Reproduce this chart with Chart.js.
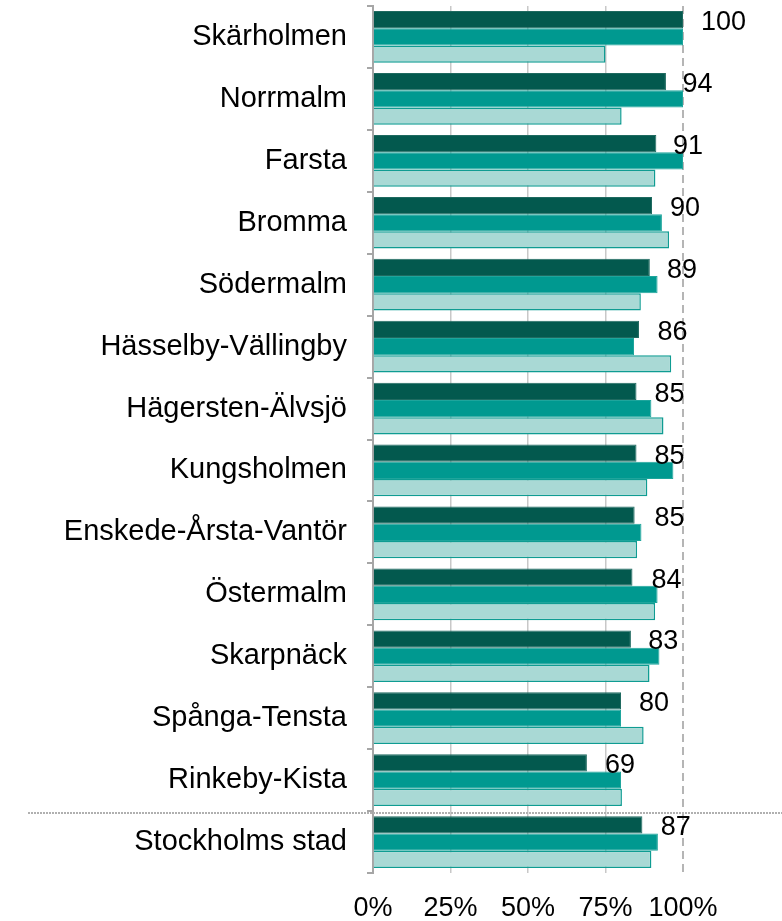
<!DOCTYPE html>
<html>
<head>
<meta charset="utf-8">
<script src="https://cdn.jsdelivr.net/npm/chart.js@4/dist/chart.umd.min.js"></script>
<style>
  html, body { margin: 0; padding: 0; background: #fff; }
  #wrap { width: 782px; height: 921px; position: relative; }
</style>
</head>
<body>
<div id="wrap"><canvas id="chart"></canvas></div>
<script>
// Stadsdelar (uppifrån och ned)
const omraden = [
    'Skärholmen', 'Norrmalm', 'Farsta', 'Bromma', 'Södermalm',
    'Hässelby-Vällingby', 'Hägersten-Älvsjö', 'Kungsholmen',
    'Enskede-Årsta-Vantör', 'Östermalm', 'Skarpnäck', 'Spånga-Tensta',
    'Rinkeby-Kista', 'Stockholms stad'
];

// Serievärden i procent
const serieMork = [100, 94.5, 91.4, 90, 89.3, 85.8, 85, 85, 84.4, 83.7, 83.2, 80, 69, 86.9];
const serieMellan = [100, 100, 100, 93.2, 91.8, 84.2, 89.8, 96.9, 86.6, 91.8, 92.4, 80, 80, 91.9];
const serieLjus = [75, 80.2, 91.1, 95.5, 86.4, 96.2, 93.7, 88.5, 85.2, 91, 89.2, 87.3, 80.3, 89.8];

// Etiketter till höger om den mörka stapeln
const indexEtiketter = [100, 94, 91, 90, 89, 86, 85, 85, 85, 84, 83, 80, 69, 87];

const xTicks = [0, 25, 50, 75, 100];

const FONT = '"Liberation Sans", Arial, sans-serif';

// Ritar siffrorna efter den mörka stapeln
const etikettPlugin = {
    id: 'etiketter',
    afterDatasetsDraw(chart) {
        const ctx = chart.ctx;
        const meta = chart.getDatasetMeta(0);
        const x = chart.scales.x;
        ctx.save();
        ctx.font = '27px ' + FONT;
        ctx.fillStyle = '#000';
        ctx.textAlign = 'left';
        ctx.textBaseline = 'middle';
        meta.data.forEach((bar, i) => {
            const px = x.getPixelForValue(indexEtiketter[i]) + 18;
            ctx.fillText(String(indexEtiketter[i]), px, bar.y + 3);
        });
        ctx.restore();
    }
};

// Prickad linje som skiljer Stockholms stad från stadsdelarna
const avskiljarePlugin = {
    id: 'avskiljare',
    afterDraw(chart) {
        const y = chart.scales.y;
        const n = omraden.length;
        const py = (y.getPixelForValue(n - 2) + y.getPixelForValue(n - 1)) / 2 + 2;
        const ctx = chart.ctx;
        ctx.save();
        ctx.strokeStyle = '#b0b0b0';
        ctx.lineWidth = 2;
        ctx.setLineDash([2, 1]);
        ctx.beginPath();
        ctx.moveTo(28, py);
        ctx.lineTo(chart.width, py);
        ctx.stroke();
        ctx.restore();
    }
};

new Chart(document.getElementById('chart'), {
    type: 'bar',
    data: {
        labels: omraden,
        datasets: [
            {
                data: serieMork,
                backgroundColor: '#03594e',
                borderColor: '#1f6a60',
                borderWidth: 1
            },
            {
                data: serieMellan,
                backgroundColor: '#009990',
                borderColor: '#1ea59c',
                borderWidth: 1
            },
            {
                data: serieLjus,
                backgroundColor: '#a9d9d5',
                borderColor: '#0f9c92',
                borderWidth: 1.5
            }
        ]
    },
    options: {
        indexAxis: 'y',
        responsive: true,
        maintainAspectRatio: false,
        animation: false,
        layout: { padding: { top: 6, right: 99, left: 0, bottom: 0 } },
        datasets: {
            bar: { categoryPercentage: 0.835, barPercentage: 1 }
        },
        plugins: {
            legend: { display: false },
            tooltip: { enabled: false }
        },
        scales: {
            x: {
                min: 0,
                max: 100,
                afterFit(scale) {
                    scale.height = 48;
                    scale.paddingLeft = 0;
                    scale.paddingRight = 0;
                },
                afterBuildTicks(scale) {
                    scale.ticks = xTicks.map(v => ({ value: v }));
                },
                border: {
                    display: false,
                    dash: ctx => (ctx.tick && ctx.tick.value === 100 ? [8, 5] : [])
                },
                grid: {
                    drawTicks: false,
                    color: ctx => (ctx.tick && ctx.tick.value === 100 ? '#b5b5b5' : '#c8c8c8'),
                    lineWidth: ctx => (ctx.tick && ctx.tick.value === 100 ? 2 : 1.5)
                },
                ticks: {
                    padding: 19,
                    color: '#000',
                    font: { family: FONT, size: 27 },
                    callback: v => v + '%'
                }
            },
            y: {
                afterFit(scale) {
                    scale.width = 373;
                    scale.paddingTop = 0;
                    scale.paddingBottom = 0;
                },
                border: { display: true, color: '#a6a6a6', width: 2 },
                grid: {
                    drawOnChartArea: false,
                    drawTicks: true,
                    tickLength: 6,
                    color: '#a6a6a6',
                    lineWidth: 2
                },
                ticks: {
                    padding: 20,
                    color: '#000',
                    font: { family: FONT, size: 29 }
                }
            }
        }
    },
    plugins: [etikettPlugin, avskiljarePlugin]
});
</script>
</body>
</html>
